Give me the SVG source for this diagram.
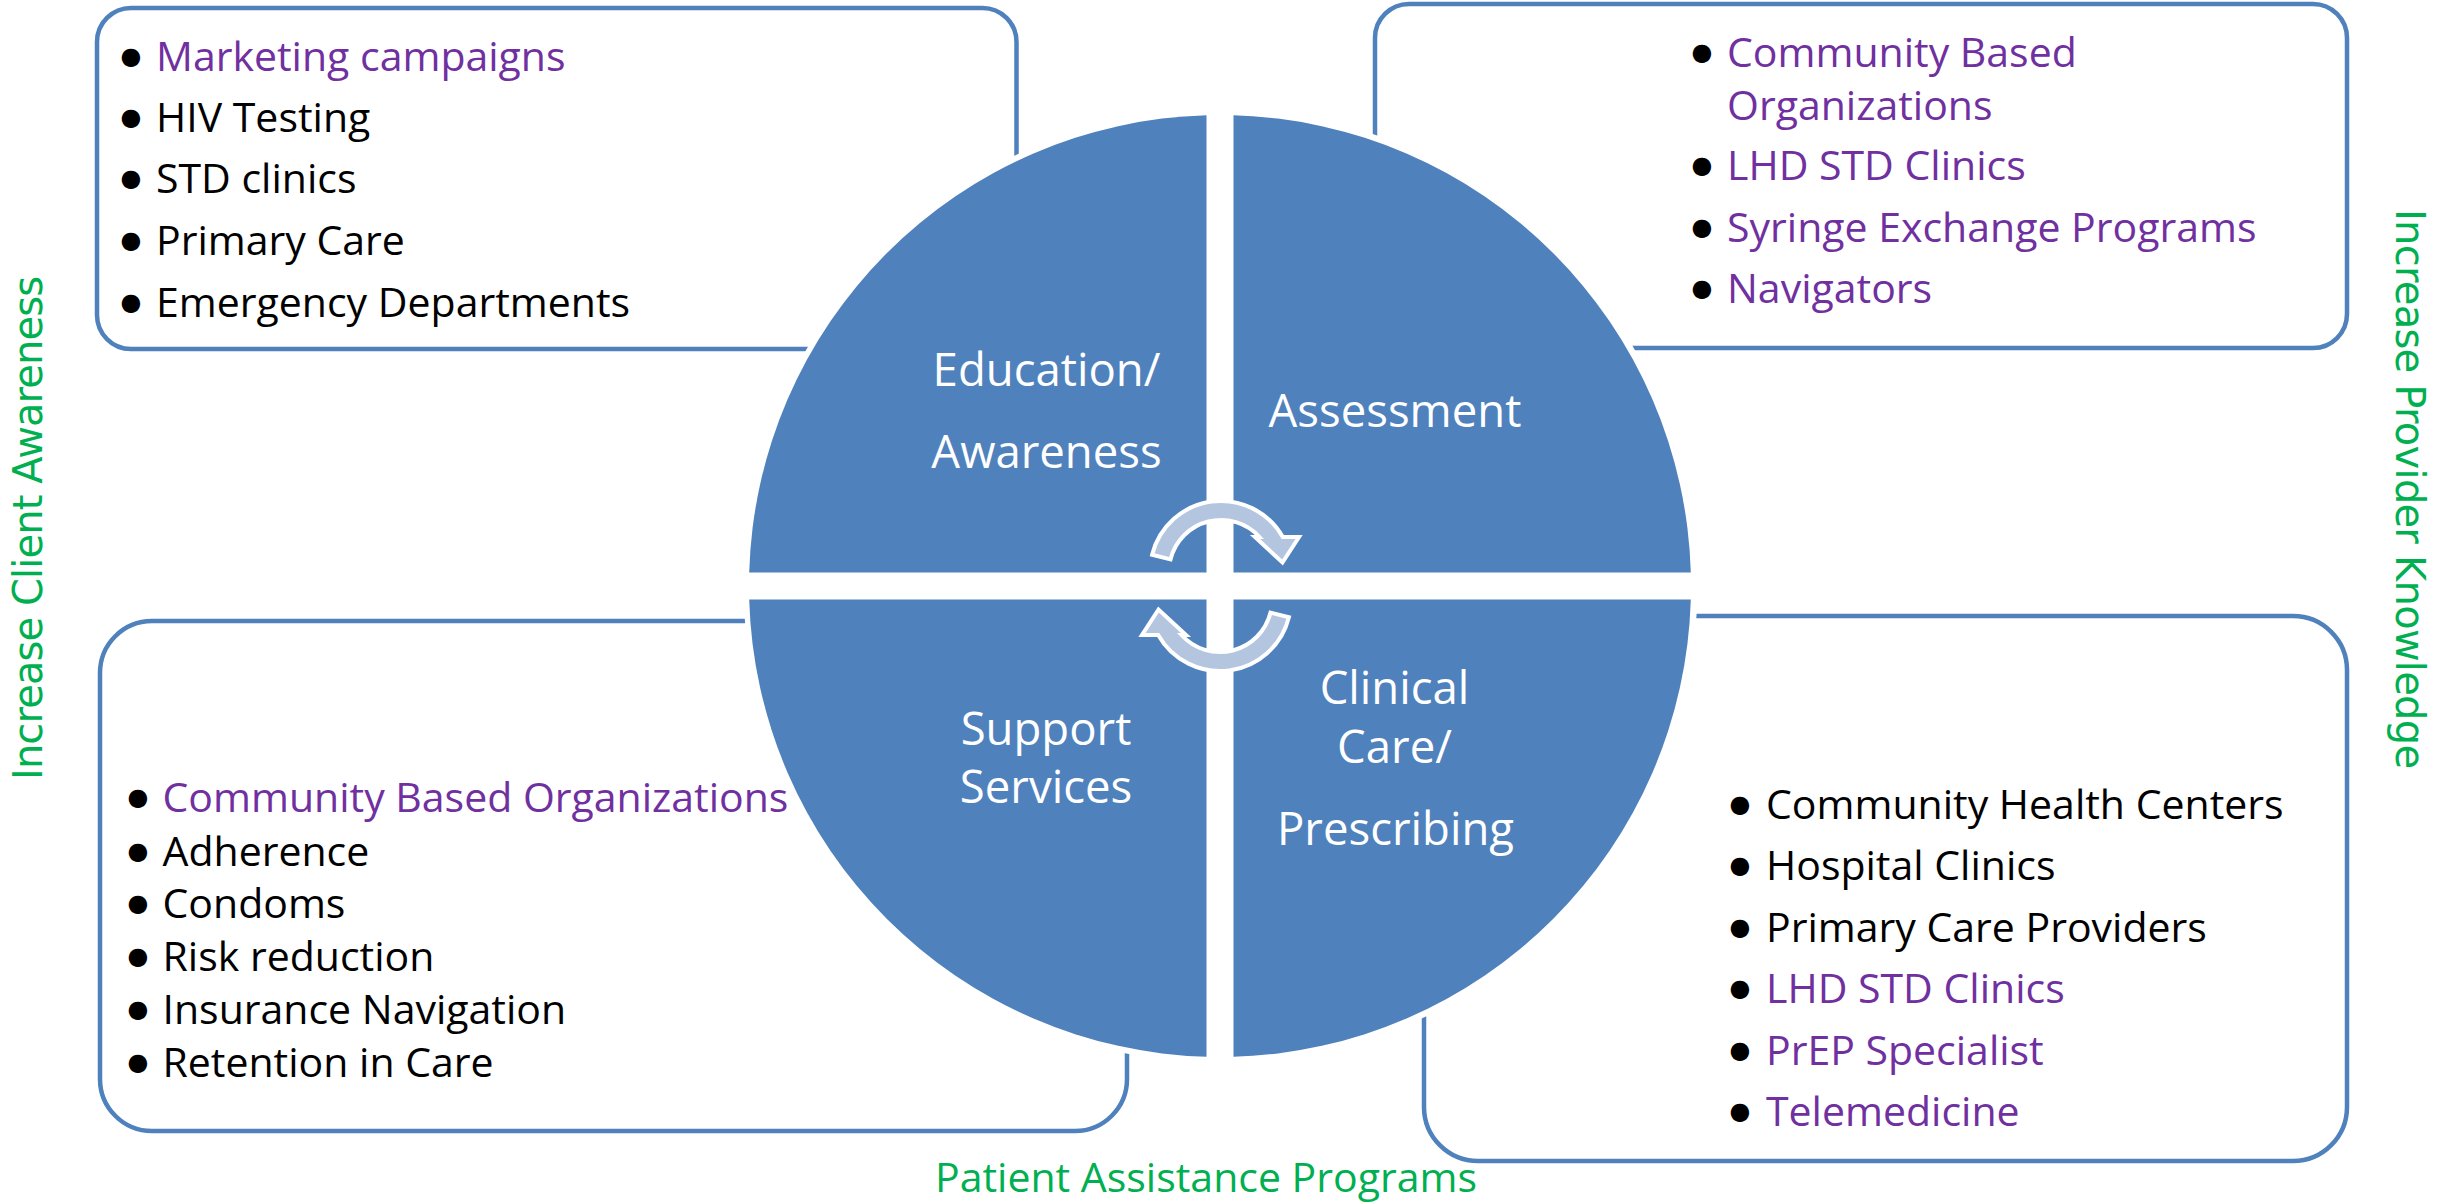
<svg xmlns="http://www.w3.org/2000/svg" width="2451" height="1202" viewBox="0 0 2451 1202">
<style>
.box{fill:#fff;stroke:#4F81BD;stroke-width:4.5}
.q{fill:#4F81BD}
.lbl{font-family:'Open Sans',sans-serif;font-size:45.5px;fill:#fff;text-anchor:middle}
.t{font-family:'Open Sans',sans-serif;font-size:41px;fill:#000}
.p{fill:#7030A0}
.b{font-family:'DejaVu Sans',sans-serif;font-size:24px;text-anchor:middle;fill:#000}
.g{font-family:'DejaVu Sans',sans-serif;font-size:40px;fill:#00B050;text-anchor:middle}
.gb{font-family:'Open Sans',sans-serif;font-size:41px;fill:#00B050}
.arr{fill:#B4C5DF;stroke:#fff;stroke-width:4;stroke-linejoin:miter}
</style>
<rect width="2451" height="1202" fill="#fff"/>
<g id="box-education">
<rect class="box" x="97" y="8" width="919.5" height="341" rx="34"/>
<text class="b p" x="131" y="64">●</text><text class="t p" x="156" y="71">Marketing campaigns</text>
<text class="b" x="131" y="125">●</text><text class="t" x="156" y="132">HIV Testing</text>
<text class="b" x="131" y="186">●</text><text class="t" x="156" y="193">STD clinics</text>
<text class="b" x="131" y="248">●</text><text class="t" x="156" y="255">Primary Care</text>
<text class="b" x="131" y="310">●</text><text class="t" x="156" y="317">Emergency Departments</text>
</g>
<g id="box-assessment">
<rect class="box" x="1375" y="4" width="972" height="344" rx="34"/>
<text class="b p" x="1702" y="60">●</text><text class="t p" x="1727" y="67">Community Based</text>
<text class="t p" x="1727" y="119.5">Organizations</text>
<text class="b p" x="1702" y="173">●</text><text class="t p" x="1727" y="180">LHD STD Clinics</text>
<text class="b p" x="1702" y="235">●</text><text class="t p" x="1727" y="242">Syringe Exchange Programs</text>
<text class="b p" x="1702" y="296">●</text><text class="t p" x="1727" y="303">Navigators</text>
</g>
<g id="box-support">
<rect class="box" x="100" y="621" width="1027" height="510" rx="52"/>
<text class="b p" x="138" y="805">●</text><text class="t p" x="162.5" y="812">Community Based Organizations</text>
<text class="b" x="138" y="859">●</text><text class="t" x="162.5" y="866">Adherence</text>
<text class="b" x="138" y="911">●</text><text class="t" x="162.5" y="918">Condoms</text>
<text class="b" x="138" y="964">●</text><text class="t" x="162.5" y="971">Risk reduction</text>
<text class="b" x="138" y="1017">●</text><text class="t" x="162.5" y="1024">Insurance Navigation</text>
<text class="b" x="138" y="1070">●</text><text class="t" x="162.5" y="1077">Retention in Care</text>
</g>
<g id="box-clinical">
<rect class="box" x="1424" y="616" width="923" height="545" rx="54"/>
<text class="b" x="1740" y="812">●</text><text class="t" x="1766" y="819">Community Health Centers</text>
<text class="b" x="1740" y="873">●</text><text class="t" x="1766" y="880">Hospital Clinics</text>
<text class="b" x="1740" y="935">●</text><text class="t" x="1766" y="942">Primary Care Providers</text>
<text class="b p" x="1740" y="996">●</text><text class="t p" x="1766" y="1003">LHD STD Clinics</text>
<text class="b p" x="1740" y="1057.5">●</text><text class="t p" x="1766" y="1064.5">PrEP Specialist</text>
<text class="b p" x="1740" y="1119">●</text><text class="t p" x="1766" y="1126">Telemedicine</text>
</g>
<circle cx="1220.5" cy="586" r="477" fill="#fff"/>
<g id="q-education">
<path class="q" d="M1206.5 572.5 V115.2 A471 471 0 0 0 749.2 572.5 Z"/>
<text class="lbl" x="1046.5" y="386">Education/</text>
<text class="lbl" x="1046.5" y="468">Awareness</text>
</g>
<g id="q-assessment">
<path class="q" d="M1233.5 572.5 V115.2 A471 471 0 0 1 1690.8 572.5 Z"/>
<text class="lbl" x="1395" y="426.5">Assessment</text>
</g>
<g id="q-support">
<path class="q" d="M1206.5 599.5 V1056.8 A471 471 0 0 1 749.2 599.5 Z"/>
<text class="lbl" x="1046" y="745">Support</text>
<text class="lbl" x="1046" y="803">Services</text>
</g>
<g id="q-clinical">
<path class="q" d="M1233.5 599.5 V1056.8 A471 471 0 0 0 1690.8 599.5 Z"/>
<text class="lbl" x="1394.5" y="704">Clinical</text>
<text class="lbl" x="1394.5" y="763">Care/</text>
<text class="lbl" x="1395.5" y="845">Prescribing</text>
</g>
<g id="connectors">
<path id="arrow-top" class="arr" d="M1152.1 554.8 A71 71 0 0 1 1282.8 537 L1299 537 L1282.5 562.5 L1255 537 L1259.5 537 A52 52 0 0 0 1170.5 559.4 Z"/>
<path id="arrow-bottom" class="arr" transform="rotate(180 1220.5 586)" d="M1152.1 554.8 A71 71 0 0 1 1282.8 537 L1299 537 L1282.5 562.5 L1255 537 L1259.5 537 A52 52 0 0 0 1170.5 559.4 Z"/>
</g>
<g id="side-labels">
<text class="g" transform="translate(42 528) rotate(-90)" textLength="504" lengthAdjust="spacing">Increase Client Awareness</text>
<text class="g" transform="translate(2396 489) rotate(90)" textLength="560" lengthAdjust="spacing">Increase Provider Knowledge</text>
<text class="gb" x="935" y="1192">Patient Assistance Programs</text>
</g>
</svg>
